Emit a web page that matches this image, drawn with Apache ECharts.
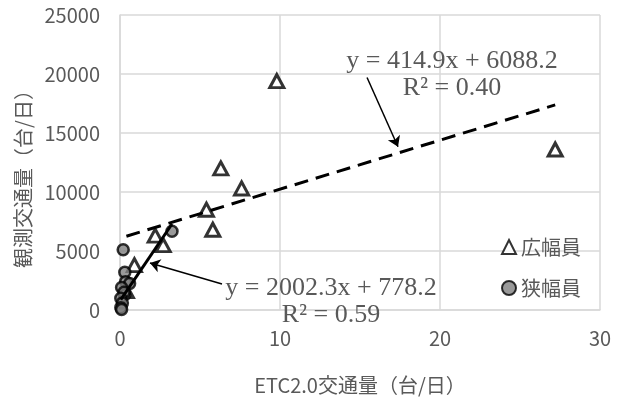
<!DOCTYPE html>
<html>
<head>
<meta charset="utf-8">
<script src="https://cdn.jsdelivr.net/npm/echarts@6/dist/echarts.min.js"></script>
<style>html,body{margin:0;padding:0;background:#fff}#chart{width:624px;height:400px}</style>
</head>
<body>
<div id="chart"></div>
<script>
// 広幅員 (triangle) points: [ETC2.0, observed]
const broadPoints = [
    [9.8, 19400], [27.2, 13600], [6.3, 12000], [7.6, 10300], [5.4, 8500],
    [5.8, 6800], [2.2, 6300], [2.7, 5500], [0.9, 3800], [0.4, 1600]
];
// 狭幅員 (circle) points
const narrowPoints = [
    [3.25, 6680], [0.2, 5100], [0.3, 3200], [0.35, 2400], [0.6, 2250],
    [0.1, 1900], [0.3, 1300], [0.25, 1500], [0.05, 1000], [0.15, 600],
    [0.05, 200], [0.1, 50]
];
// trendline end points
const broadTrend = [[0.4, 6250], [27.2, 17380]];
const narrowTrend = [[0.05, 880], [3.25, 7290]];
// arrows [from, to]
const broadArrow = [[15.44, 19700], [17.375, 13840]];
const narrowArrow = [[6.375, 2200], [1.875, 3990]];
const xTicks = [0, 10, 20, 30];
const yTicks = [0, 5000, 10000, 15000, 20000, 25000];
const seriesNames = ['広幅員', '狭幅員'];

const gray = '#595959';
const sans = '"Noto Sans CJK JP", "Noto Sans", sans-serif';
const serif = '"Liberation Serif", serif';

const myChart = echarts.init(document.getElementById('chart'));

myChart.setOption({
    backgroundColor: '#ffffff',
    animation: false,
    grid: {left: 120, right: 24, top: 15, bottom: 78},
    legend: {
        data: seriesNames, orient: 'vertical', left: 496, top: 230,
        itemWidth: 14, itemHeight: 14, itemGap: 17,
        textStyle: {fontFamily: sans, fontSize: 20, color: gray, lineHeight: 24}
    },
    xAxis: {
        type: 'value', min: xTicks[0], max: xTicks[xTicks.length - 1], interval: 10,
        name: 'ETC2.0交通量（台/日）', nameLocation: 'middle', nameGap: 65,
        nameTextStyle: {fontFamily: sans, fontSize: 20, color: gray},
        axisLine: {lineStyle: {color: '#d9d9d9', width: 1.5}},
        axisTick: {show: false},
        axisLabel: {fontFamily: sans, fontSize: 20, color: gray, margin: 18},
        splitLine: {lineStyle: {color: '#d9d9d9', width: 1.5}}
    },
    yAxis: {
        type: 'value', min: yTicks[0], max: yTicks[yTicks.length - 1], interval: 5000,
        name: '観測交通量（台/日）', nameLocation: 'middle', nameGap: 72,
        nameTextStyle: {fontFamily: sans, fontSize: 20, color: gray, padding: [0, 23, 0, 0]},
        axisLine: {show: true, lineStyle: {color: '#d9d9d9', width: 1.5}},
        axisTick: {show: false},
        axisLabel: {fontFamily: sans, fontSize: 20, color: gray, margin: 20, formatter: v => String(v)},
        splitLine: {lineStyle: {color: '#d9d9d9', width: 1.5}}
    },
    series: [
        {
            name: seriesNames[0], type: 'scatter', data: broadPoints,
            symbol: 'triangle', symbolSize: [14, 13], z: 2,
            itemStyle: {color: '#ffffff', borderColor: '#000', borderWidth: 3}
        },
        {
            name: seriesNames[1], type: 'scatter', data: narrowPoints,
            symbol: 'circle', symbolSize: 11, z: 3,
            itemStyle: {color: '#7f7f7f', borderColor: '#000', borderWidth: 2.5}
        },
        {
            name: 'trend1', type: 'line', data: broadTrend, symbol: 'none', z: 4,
            lineStyle: {color: '#000', width: 3, type: [14, 8]}
        },
        {
            name: 'trend2', type: 'line', data: narrowTrend, symbol: 'none', z: 4,
            lineStyle: {color: '#000', width: 3}
        },
        {
            name: 'arrows', type: 'line', data: [], z: 5,
            markLine: {
                silent: true, symbol: ['none', 'arrow'], symbolSize: 10,
                label: {show: false},
                lineStyle: {color: '#000', width: 1.5, type: 'solid'},
                data: [
                    [{coord: broadArrow[0]}, {coord: broadArrow[1]}],
                    [{coord: narrowArrow[0]}, {coord: narrowArrow[1]}]
                ]
            }
        }
    ],
    graphic: [
        {type: 'text', x: 452, y: 75, z: 10, style: {
            text: 'y = 414.9x + 6088.2\nR² = 0.40', fill: gray,
            font: '26px ' + serif, lineHeight: 27, align: 'center', verticalAlign: 'middle'}},
        {type: 'text', x: 331, y: 302, z: 10, style: {
            text: 'y = 2002.3x + 778.2\nR² = 0.59', fill: gray,
            font: '26px ' + serif, lineHeight: 27, align: 'center', verticalAlign: 'middle'}}
    ]
});

window.addEventListener('resize', () => myChart.resize());
</script>
</body>
</html>
